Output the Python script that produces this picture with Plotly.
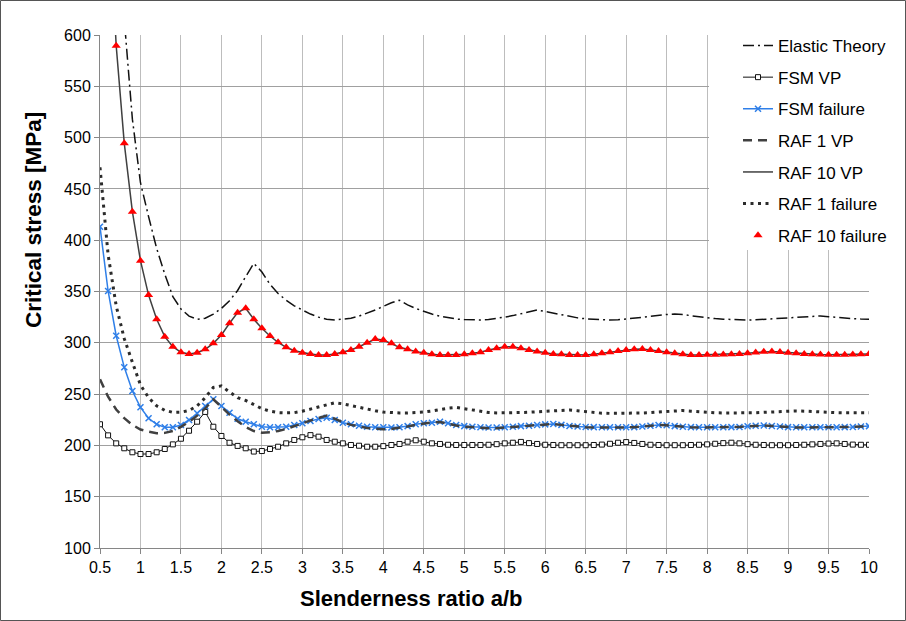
import plotly.graph_objects as go

# Slenderness ratio a/b (0.5 .. 10.0, step 0.1)
ratio = [round(0.5 + 0.1 * i, 1) for i in range(96)]

elastic_theory = [
    1200, 920, 740, 615, 518, 456, 423, 392, 367, 345,
    333, 326, 323, 324, 328, 333.5, 341, 351, 364.5, 377.5,
    369, 357, 348, 341.5, 336, 332, 328, 325, 323, 322.2,
    322.8, 324, 326, 328.7, 332, 335.5, 339, 341.5, 337, 333.5,
    330.5, 328, 326, 324.5, 323.2, 322.6, 322.2, 322.3, 322.8, 323.6,
    325, 326.5, 328.3, 330.3, 332, 330.5, 328.8, 327.1, 325.6, 324.3,
    323.4, 322.8, 322.3, 322.2, 322.4, 323, 323.8, 324.8, 325.8, 326.8,
    327.6, 328, 327.6, 326.4, 325.3, 324.4, 323.6, 323, 322.6, 322.3,
    322.2, 322.4, 322.9, 323.5, 324, 324.6, 325.2, 325.7, 326, 326.2,
    325.4, 324.6, 324, 323.5, 323.1, 322.9,
]

fsm_vp = [
    220.6, 209.8, 202, 197.2, 193.3, 191.6, 191.6, 193.3, 196.5, 201,
    206.5, 214.3, 223.1, 232.6, 218.2, 209.2, 202.6, 199.5, 197.2, 194,
    194.5, 196.5, 198.7, 202, 205.3, 207.9, 210, 208.5, 205.3, 203.6,
    202, 200.4, 199.7, 198.7, 198.7, 199.3, 200.4, 201.4, 203.6, 205,
    203.6, 202, 201.4, 200.6, 200.4, 200.4, 200.4, 200.4, 200.6, 201.2,
    202, 202.6, 203.4, 202.2, 201.4, 200.6, 200.4, 200.2, 200.2, 200.2,
    200.2, 200.4, 200.8, 201.6, 202.6, 203.2, 202.4, 201.4, 200.6, 200.4,
    200.2, 200.2, 200.2, 200.4, 200.6, 201, 201.6, 202.2, 202.6, 202,
    201.2, 200.6, 200.4, 200.2, 200.2, 200.2, 200.4, 200.6, 201, 201.4,
    201.8, 202, 201.4, 200.8, 200.6, 200.6,
]

fsm_failure = [
    413.2, 350.5, 306.9, 276.1, 253, 237.1, 226.4, 220.6, 217.6, 217.6,
    219.9, 224.8, 231.3, 238.4, 244.9, 238.4, 231.9, 226, 223.1, 220.6,
    218.2, 217.6, 217.6, 218.2, 219.9, 221.5, 223.8, 225.7, 227, 224.8,
    222.1, 220.6, 219.2, 218.2, 217.6, 217.6, 217.5, 217.6, 218.8, 220.6,
    221.5, 222.1, 223.1, 221.5, 219.9, 218.8, 218.2, 217.6, 217.4, 217.4,
    217.6, 218.2, 218.8, 219.2, 219.9, 220.5, 220.8, 220, 219, 218.4,
    218, 217.8, 217.6, 217.6, 217.6, 217.6, 217.8, 218.4, 219.2, 219.9,
    219.6, 218.8, 218.2, 217.8, 217.6, 217.6, 217.6, 217.6, 217.8, 218,
    218.6, 219.2, 219.4, 219, 218.4, 217.8, 217.6, 217.6, 217.6, 217.6,
    217.6, 217.7, 217.8, 218, 218.4, 218.8,
]

raf1_vp = [
    264.4, 247.5, 235, 226.5, 220, 215.5, 213.4, 211.8, 212.2, 214,
    218, 223, 229, 236, 245, 237, 230, 223.5, 218, 214,
    212.4, 212.8, 214, 216, 218.5, 221.5, 224.3, 227, 229, 226,
    222.5, 220, 218.2, 217, 216.2, 215.7, 216, 217, 218.5, 220,
    221.5, 222.5, 222.8, 221, 219.4, 218.3, 217.6, 217, 216.8, 216.8,
    217.2, 217.8, 218.5, 219.2, 220, 220.6, 220.9, 220, 219, 218.2,
    217.7, 217.4, 217.3, 217.3, 217.4, 217.5, 217.8, 218.4, 219.2, 219.9,
    219.6, 218.8, 218.1, 217.6, 217.4, 217.4, 217.4, 217.5, 217.8, 218,
    218.6, 219.2, 219.4, 219, 218.3, 217.7, 217.4, 217.4, 217.4, 217.5,
    217.5, 217.6, 217.8, 218, 218.3, 218.6,
]

raf10 = [
    960, 740, 589.6, 494.4, 427.8, 380, 346.5, 322.9, 306, 296.2,
    290.7, 289.1, 290.4, 293.7, 299.5, 307.6, 319, 329.4, 333.6, 322.9,
    314.1, 306.6, 300.5, 295.6, 292.3, 290.4, 289.1, 288.1, 288.1, 289.1,
    290.7, 293, 296.2, 300, 303.7, 302.7, 299.5, 295.6, 293.7, 291.4,
    290.4, 288.8, 288.1, 288.1, 288.1, 288.8, 289.8, 290.7, 293, 294.6,
    296.2, 296.2, 294.6, 293, 291.4, 290.4, 289.1, 288.8, 288.1, 288.1,
    288.1, 288.8, 289.8, 290.7, 292, 293, 293.7, 294, 293, 292,
    290.7, 289.8, 288.8, 288.1, 288.1, 288.3, 288.3, 288.5, 288.8, 289.2,
    289.8, 290.5, 291.2, 291.5, 291, 290.4, 289.8, 289.2, 288.8, 288.5,
    288.3, 288.3, 288.3, 288.5, 288.8, 289,
]

raf1_failure = [
    471, 386, 336, 304, 281, 259, 246.5, 238.5, 234.2, 232.2,
    232.3, 234, 238.5, 246.5, 256.5, 258, 252, 246.5, 243.8, 239.8,
    235.8, 233.3, 232, 231.7, 231.9, 233.3, 235.5, 237.7, 240, 241.6,
    240.5, 238.8, 236.7, 235, 233.8, 232.5, 231.9, 231.6, 231.6, 231.9,
    232.5, 233.6, 235, 236.3, 237, 235.8, 234.3, 233, 232.1, 231.7,
    231.6, 231.7, 232, 232.3, 232.6, 232.9, 233.4, 234, 234.5, 233.8,
    232.9, 232, 231.4, 231.2, 231.2, 231.3, 231.4, 231.6, 232, 232.6,
    233.2, 233.6, 234, 233.4, 232.7, 232.2, 231.8, 231.6, 231.5, 231.5,
    231.6, 231.8, 232.2, 232.6, 233, 233.4, 233.6, 233.4, 232.9, 232.4,
    232.1, 231.9, 231.8, 231.8, 231.8, 231.9,
]

FONT = "Arial, Liberation Sans, sans-serif"
W, H = 906, 621
ML, MR, MT, MB = 100, 37, 35, 73
PW, PH = W - ML - MR, H - MT - MB


def px2paper_x(px):
    return (px - ML) / PW


def px2paper_y(py):
    return (H - MB - py) / PH


fig = go.Figure()

fig.add_trace(go.Scatter(
    x=ratio, y=elastic_theory, mode="lines", name="Elastic Theory",
    legendgroup="g1",
    line=dict(color="#111111", width=1.5, dash="11px,4px,2px,4px")))

fig.add_trace(go.Scatter(
    x=ratio, y=fsm_vp, mode="lines+markers", name="FSM VP",
    legendgroup="g2",
    line=dict(color="#111111", width=1),
    marker=dict(symbol="square", size=5, color="white",
                line=dict(color="#111111", width=1))))

fig.add_trace(go.Scatter(
    x=ratio, y=fsm_failure, mode="lines+markers", name="FSM failure",
    legendgroup="g3",
    line=dict(color="#2f7fe8", width=1.5),
    marker=dict(symbol="x-thin", size=6, color="#2f7fe8",
                line=dict(color="#2f7fe8", width=1.5))))

fig.add_trace(go.Scatter(
    x=ratio, y=raf1_vp, mode="lines", name="RAF 1 VP",
    legendgroup="g4",
    line=dict(color="#404040", width=2.5, dash="9px,6px")))

fig.add_trace(go.Scatter(
    x=ratio, y=raf10, mode="lines", name="RAF 10 VP",
    legendgroup="g5",
    line=dict(color="#404040", width=1.5)))

fig.add_trace(go.Scatter(
    x=ratio, y=raf1_failure, mode="lines", name="RAF 1 failure",
    legendgroup="g6",
    line=dict(color="#2b2b2b", width=3, dash="3px,4.5px")))

fig.add_trace(go.Scatter(
    x=ratio, y=raf10, mode="markers", name="RAF 10 failure",
    legendgroup="g7",
    marker=dict(symbol="triangle-up", size=8, color="#ff0000")))

fig.update_layout(
    width=W, height=H,
    margin=dict(l=ML, r=MR, t=MT, b=MB, pad=0),
    paper_bgcolor="white", plot_bgcolor="white",
    font=dict(family=FONT, color="black"),
    showlegend=True,
    legend=dict(
        x=px2paper_x(738), y=px2paper_y(28), xanchor="left", yanchor="top",
        bgcolor="rgba(0,0,0,0)", borderwidth=0,
        font=dict(family=FONT, size=17, color="black"),
        traceorder="grouped", tracegroupgap=6.5,
    ),
    xaxis=dict(
        range=[0.5, 10], tick0=0.5, dtick=0.5,
        showgrid=True, gridcolor="#bdbdbd", gridwidth=1,
        showline=True, linecolor="#868686", linewidth=1,
        ticks="outside", ticklen=5, tickcolor="#868686",
        zeroline=False,
        tickfont=dict(family=FONT, size=16, color="black"),
    ),
    yaxis=dict(
        range=[100, 600], tick0=100, dtick=50,
        showgrid=True, gridcolor="#a0a0a0", gridwidth=1,
        showline=True, linecolor="#868686", linewidth=1,
        ticks="outside", ticklen=5, tickcolor="#868686",
        zeroline=False,
        tickfont=dict(family=FONT, size=16, color="black"),
    ),
    shapes=[
        # white backing behind legend (covers gridlines there)
        dict(type="rect", xref="paper", yref="paper",
             x0=px2paper_x(709), x1=1.0, y0=px2paper_y(250), y1=1.0,
             fillcolor="white", line=dict(width=0), layer="above"),
        # chart-area border
        dict(type="rect", xref="paper", yref="paper",
             x0=px2paper_x(0.5), x1=px2paper_x(W - 0.5),
             y0=px2paper_y(H - 0.5), y1=px2paper_y(0.5),
             line=dict(color="#555555", width=1), fillcolor="rgba(0,0,0,0)",
             layer="above"),
    ],
    annotations=[
        dict(text="<b>Slenderness ratio a/b</b>", xref="paper", yref="paper",
             x=px2paper_x(411), y=px2paper_y(598), xanchor="center",
             yanchor="middle", showarrow=False,
             font=dict(family=FONT, size=22, color="black")),
        dict(text="<b>Critical stress [MPa]</b>", xref="paper", yref="paper",
             x=px2paper_x(33), y=px2paper_y(220), xanchor="center",
             yanchor="middle", showarrow=False, textangle=-90,
             font=dict(family=FONT, size=22.5, color="black")),
    ],
)

fig.write_html(
    "out.html",
    config={"displayModeBar": False},
    post_script="document.body.style.margin='0';document.body.style.padding='0';",
)
